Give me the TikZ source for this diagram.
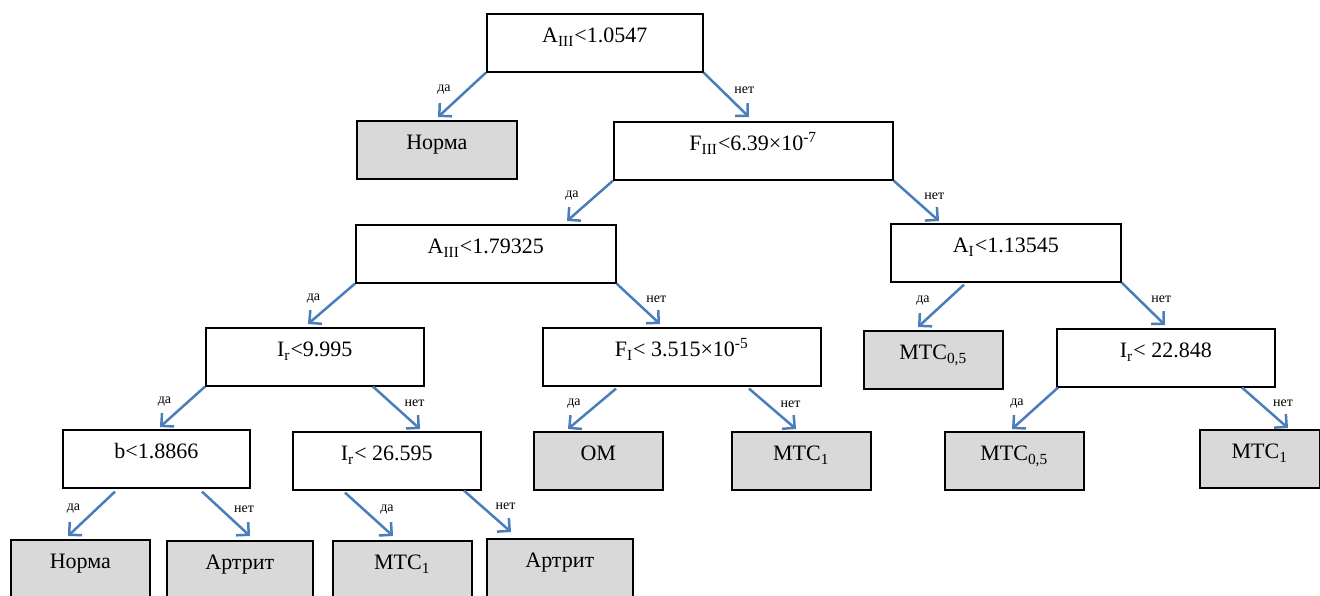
\documentclass[tikz,border=0pt]{standalone}
\usepackage{fontspec}
\setmainfont{Liberation Serif}
\usepackage{xcolor}
\usepackage{tikz}
\usetikzlibrary{arrows.meta,calc}
\definecolor{arrblue}{HTML}{4A7EBB}
\definecolor{leafgray}{HTML}{D9D9D9}

\begin{document}
\begin{tikzpicture}[
  x=0.5pt, y=-0.5pt,
  box/.style={draw, line width=0.8pt, anchor=north west, inner sep=0pt,
    minimum height=29pt, text height=6pt, text depth=6pt,
    font=\fontsize{11}{13}\selectfont},
  leaf/.style={box, fill=leafgray},
  arr/.style={-{Straight Barb[length=4.5pt, width=9pt]}, arrblue, line width=1.25pt},
  lblL/.style={midway, text=black, font=\fontsize{7}{8}\selectfont, xshift=-9pt, yshift=2.5pt},
  lblR/.style={midway, text=black, font=\fontsize{7}{8}\selectfont, xshift=9pt, yshift=2.5pt}]

\useasboundingbox (0,0) rectangle (1320,595);
\clip (0,0) rectangle (1320,595);

% level 0 and 1
\node[box, minimum width=108pt] (root) at (486,13) {A\textsubscript{III}<1.0547};
\node[leaf, minimum width=80pt] (norm1) at (356,120) {Норма};
\node[box, minimum width=139.5pt] (f3) at (613,121) {F\textsubscript{III}<6.39×10\textsuperscript{-7}};

% level 2
\node[box, minimum width=130pt] (a3) at (355,224) {A\textsubscript{III}<1.79325};
\node[box, minimum width=115pt] (a1) at (890,223) {A\textsubscript{I}<1.13545};

% level 3
\node[box, minimum width=109pt] (ir9) at (205,327) {I\textsubscript{r}<9.995};
\node[box, minimum width=139pt] (fi) at (542,327) {F\textsubscript{I}< 3.515×10\textsuperscript{-5}};
\node[leaf, minimum width=69.5pt] (mtcA) at (863,330) {МТС\textsubscript{0,5}};
\node[box, minimum width=109pt] (ir22) at (1056,328) {I\textsubscript{r}< 22.848};

% level 4
\node[box, minimum width=93.5pt] (b) at (62,429) {b<1.8866};
\node[box, minimum width=94pt] (ir26) at (292,431) {I\textsubscript{r}< 26.595};
\node[leaf, minimum width=64.5pt] (om) at (533,431) {ОМ};
\node[leaf, minimum width=69.5pt] (mtcB) at (731,431) {МТС\textsubscript{1}};
\node[leaf, minimum width=69.5pt] (mtcC) at (944,431) {МТС\textsubscript{0,5}};
\node[leaf, minimum width=60pt] (mtcD) at (1199,429) {МТС\textsubscript{1}};

% level 5
\node[leaf, minimum width=69.5pt] (norm2) at (10,539) {Норма};
\node[leaf, minimum width=73pt] (art1) at (166,540) {Артрит};
\node[leaf, minimum width=69.5pt] (mtcE) at (332,540) {МТС\textsubscript{1}};
\node[leaf, minimum width=73pt] (art2) at (486,538) {Артрит};

% edges
\draw[arr] (root.south west) -- ($(norm1.north west)+(82,-3)$) node[lblL] {да};
\draw[arr] (root.south east) -- ($(f3.north west)+(136,-4)$) node[lblR] {нет};
\draw[arr] (f3.south west) -- ($(a3.north west)+(212,-3)$) node[lblL] {да};
\draw[arr] (f3.south east) -- ($(a1.north west)+(49,-2)$) node[lblR] {нет};
\draw[arr] (a3.south west) -- ($(ir9.north west)+(103,-3)$) node[lblL] {да};
\draw[arr] (a3.south east) -- ($(fi.north west)+(118,-3)$) node[lblR] {нет};
\draw[arr] ($(fi.south west)+(74,2)$) -- ($(om.north west)+(35,-2)$) node[lblL] {да};
\draw[arr] ($(fi.south west)+(207,2)$) -- ($(mtcB.north west)+(65,-2)$) node[lblR] {нет};
\draw[arr] ($(a1.south west)+(74,2)$) -- ($(mtcA.north west)+(55,-3)$) node[lblL] {да};
\draw[arr] (a1.south east) -- ($(ir22.north west)+(109,-3)$) node[lblR] {нет};
\draw[arr] ($(ir22.south west)+(2,0)$) -- ($(mtcC.north west)+(68,-2)$) node[lblL] {да};
\draw[arr] ($(ir22.south west)+(186,0)$) -- ($(mtcD.north west)+(89,-1)$) node[lblR] {нет};
\draw[arr] (ir9.south west) -- ($(b.north west)+(98,-2)$) node[lblL] {да};
\draw[arr] ($(ir9.south west)+(168,0)$) -- ($(ir26.north west)+(128,-2)$) node[lblR] {нет};
\draw[arr] ($(b.south west)+(53,3)$) -- ($(norm2.north west)+(58,-3)$) node[lblL] {да};
\draw[arr] ($(b.south west)+(140,3)$) -- ($(art1.north west)+(84,-4)$) node[lblR] {нет};
\draw[arr] ($(ir26.south west)+(53,2)$) -- ($(mtcE.north west)+(61,-4)$) node[lblR] {да};
\draw[arr] ($(ir26.south west)+(172,0)$) -- ($(art2.north west)+(25,-6)$) node[lblR] {нет};
\end{tikzpicture}
\end{document}
